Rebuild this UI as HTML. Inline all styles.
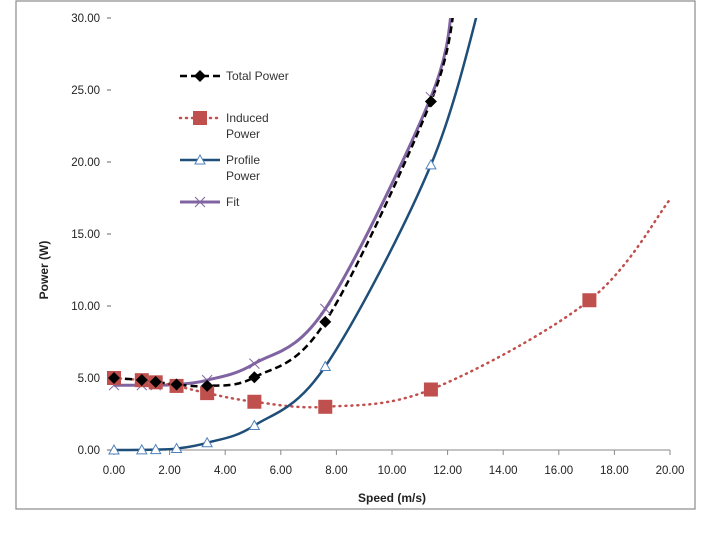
<!DOCTYPE html>
<html><head><meta charset="utf-8"><style>
body{margin:0;background:#fff;}
svg{display:block;font-family:"Liberation Sans",sans-serif;}
</style></head><body>
<svg id="chart" width="720" height="540">
<rect x="16" y="1" width="679" height="508" fill="#fff" stroke="#8a8a8a" stroke-width="1.2"/>
<defs><clipPath id="plotclip"><rect x="100" y="18" width="580" height="440"/></clipPath></defs>
<g id="axes"></g>
<g id="series" clip-path="url(#plotclip)"></g>
<g id="markers"></g>
<text x="48" y="270" transform="rotate(-90 48 270)" text-anchor="middle" font-size="12" font-weight="bold" fill="#222">Power (W)</text>
<text x="392" y="502" text-anchor="middle" font-size="12" font-weight="bold" fill="#222">Speed (m/s)</text>
<g id="legend"></g>
</svg>
<script>
const speeds=[0,1.0,1.5,2.25,3.35,5.05,7.6,11.4,17.1];
const induced=[5.0,4.85,4.7,4.45,3.95,3.35,3.0,4.2,10.4];
const profile=[0,0.01,0.03,0.1,0.5,1.7,5.8,19.8];
const total=[5.0,4.86,4.73,4.55,4.45,5.05,8.9,24.2];
const fit=[4.5,4.5,4.5,4.55,4.85,6.0,9.8,24.5];
const inducedTailX=[20];
const inducedTailY=[17.4];
const profileTailX=[13.3];
const profileTailY=[32];
const totalTailX=[12.3];
const totalTailY=[31.5];
const fitTailX=[12.2];
const fitTailY=[31.5];
const xTicks=[0,2,4,6,8,10,12,14,16,18,20];
const yTicks=[0,5,10,15,20,25,30];
const NS="http://www.w3.org/2000/svg";
const sx=v=>114+v*27.8, sy=v=>450-v*14.4;
function mk(tag,attrs,parent){const e=document.createElementNS(NS,tag);for(const k in attrs)e.setAttribute(k,attrs[k]);parent.appendChild(e);return e;}
const axes=document.getElementById('axes'),ser=document.getElementById('series'),mg=document.getElementById('markers'),lg=document.getElementById('legend');
let xl=mk('line',{x1:sx(0),x2:sx(20),y1:sy(0),y2:sy(0),stroke:'#888','stroke-width':1},axes);


xTicks.forEach(t=>{
 let l=mk('line',{x1:sx(t),x2:sx(t),y1:450,y2:455,stroke:'#888'},axes);
 
 
 let tx=mk('text',{x:sx(t),y:474,'text-anchor':'middle','font-size':11.5,fill:'#222'},axes);
 tx.textContent=t.toFixed(2);
 
 
});
yTicks.forEach(t=>{
 let tx=mk('text',{x:100,y:sy(t)+4,'text-anchor':'end','font-size':11.5,fill:'#222'},axes);
 tx.textContent=t.toFixed(2);
 
 
 let l=mk('line',{x1:107,x2:111,y1:sy(t),y2:sy(t),stroke:'#666'},axes);
 
 
});
function smooth(xs,ys){
 const p=xs.map((x,i)=>[sx(x),sy(ys[i])]);
 let d='M'+p[0][0]+','+p[0][1];
 for(let i=0;i<p.length-1;i++){
  const p0=p[i-1]||p[i],p1=p[i],p2=p[i+1],p3=p[i+2]||p2;
  const t=0.5/3;
  d+=' C'+(p1[0]+(p2[0]-p0[0])*t)+','+(p1[1]+(p2[1]-p0[1])*t)+' '+(p2[0]-(p3[0]-p1[0])*t)+','+(p2[1]-(p3[1]-p1[1])*t)+' '+p2[0]+','+p2[1];
 }
 return d;
}
const S=[
 {name:'fit',ys:fit,lx:speeds.slice(0,8).concat(fitTailX),ly:fit.concat(fitTailY),color:'#8064a2',w:3,dash:'',mark:'x'},
 {name:'induced-power',ys:induced,lx:speeds.concat(inducedTailX),ly:induced.concat(inducedTailY),color:'#c0504d',w:2.5,dash:'1 5',cap:'round',mark:'sq'},
 {name:'profile-power',ys:profile,lx:speeds.slice(0,8).concat(profileTailX),ly:profile.concat(profileTailY),color:'#1f4e79',w:2.5,dash:'',mark:'tri'},
 {name:'total-power',ys:total,lx:speeds.slice(0,8).concat(totalTailX),ly:total.concat(totalTailY),color:'#000',w:2.5,dash:'7 4',mark:'dia'}
];
S.forEach(s=>{
 let p=mk('path',{d:smooth(s.lx,s.ly),fill:'none',stroke:s.color,'stroke-width':s.w,'stroke-dasharray':s.dash,'stroke-linecap':s.cap||'butt'},ser);
 
 
});
function marker(type,x,y,parent){
 let e;
 if(type==='sq') e=mk('rect',{x:x-7,y:y-7,width:14,height:14,fill:'#c0504d'},parent);
 else if(type==='tri') e=mk('path',{d:`M${x-5},${y+4} L${x},${y-5} L${x+5},${y+4} Z`,fill:'#fff',stroke:'#4f81bd','stroke-width':1},parent);
 else if(type==='dia') e=mk('path',{d:`M${x},${y-6} L${x+6},${y} L${x},${y+6} L${x-6},${y} Z`,fill:'#000'},parent);
 else e=mk('path',{d:`M${x-5},${y-5} L${x+5},${y+5} M${x-5},${y+5} L${x+5},${y-5}`,stroke:'#8064a2','stroke-width':1},parent);
 return e;
}
S.forEach(s=>{
 s.ys.forEach((v,i)=>{
  if(v>30)return;
  let e=marker(s.mark,sx(speeds[i]),sy(v),mg);
  
  
 });
});
const L=[
 {s:S[3],lines:['Total Power'],y:76},
 {s:S[1],lines:['Induced','Power'],y:118},
 {s:S[2],lines:['Profile','Power'],y:160},
 {s:S[0],lines:['Fit'],y:202}
];
L.forEach(it=>{
 let g=mk('g',{},lg);
 
 
 mk('line',{x1:180,x2:220,y1:it.y,y2:it.y,stroke:it.s.color,'stroke-width':it.s.w,'stroke-dasharray':it.s.dash,'stroke-linecap':it.s.cap||'butt'},g);
 marker(it.s.mark,200,it.y,g);
 it.lines.forEach((t,j)=>{let tx=mk('text',{x:226,y:it.y+4+j*16,'font-size':12,fill:'#333'},g);tx.textContent=t;});
});
</script>
</body></html>
